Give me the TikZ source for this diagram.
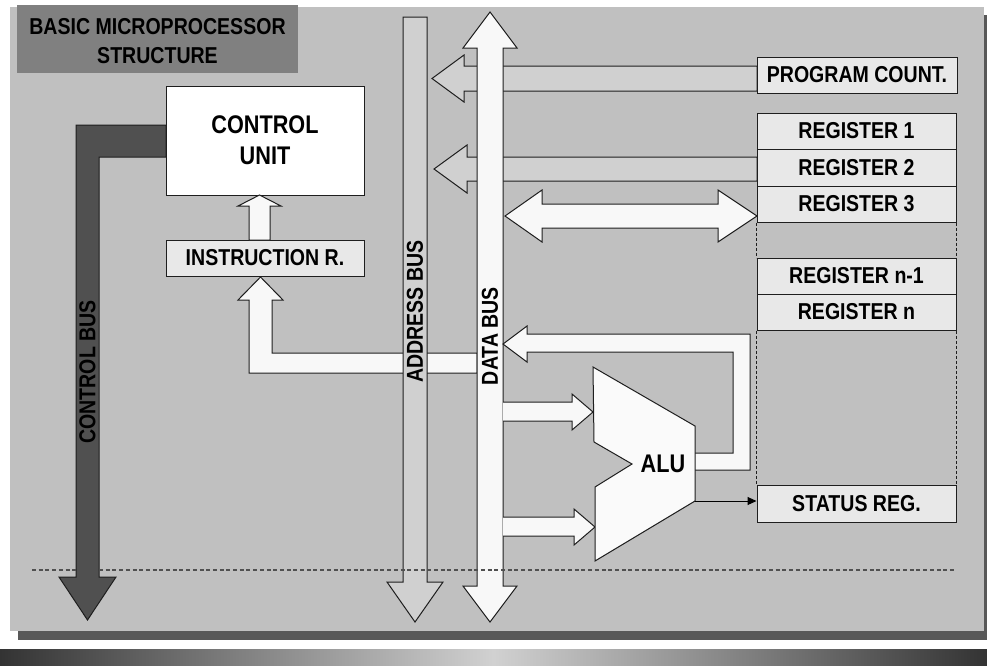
\documentclass[tikz,border=0pt]{standalone}
\usepackage{fontspec}
\setmainfont{Liberation Sans}[FakeStretch=0.85]
\usetikzlibrary{arrows.meta}
\definecolor{panel}{HTML}{C0C0C0}
\definecolor{titlefill}{HTML}{808080}
\definecolor{addrfill}{HTML}{D0D0D0}
\definecolor{datafill}{HTML}{F8F8F8}
\definecolor{boxfill}{HTML}{E8E8E8}
\definecolor{ctrlfill}{HTML}{505050}
\definecolor{shadowc}{HTML}{585858}
\definecolor{linec}{HTML}{1E1E1E}
\newcommand\labfont{\bfseries\fontsize{23pt}{26pt}\selectfont}
\newcommand\bigfont{\bfseries\fontsize{25.5pt}{31pt}\selectfont}
\begin{document}
\begin{tikzpicture}[x=1pt,y=-1pt,
  outl/.style={draw=linec, line width=1pt, line join=miter},
  regbox/.style={draw=linec, line width=1pt, fill=boxfill, minimum width=199pt, minimum height=36pt, inner sep=0pt, font=\labfont},
  buslbl/.style={rotate=90, inner sep=0pt, font=\labfont},
  regdash/.style={draw=linec, line width=1pt, dash pattern=on 3pt off 2pt}]
\useasboundingbox (0,0) rectangle (987,665);
\fill[white] (0,0) rectangle (987,665);
% bottom gradient bar
\shade[left color=black!80, right color=black!80, middle color=black!18] (0,649) rectangle (987,665);
% panel and shadow
\fill[shadowc] (18,631) rectangle (987,640);
\fill[shadowc] (984,15) rectangle (987,640);
\fill[panel] (10,7) rectangle (984,631);
% title
\fill[titlefill] (17,5) rectangle (298,73);
\node[font=\labfont, align=center, inner sep=0pt] (title) at (157.5,41.5) {BASIC MICROPROCESSOR\\[3pt]STRUCTURE};

% control bus
\filldraw[outl, fill=ctrlfill] (166,125) -- (76,125) -- (76,577) -- (59,577) -- (87.5,620) -- (116,577) -- (99,577) -- (99,157) -- (166,157) -- cycle;

% arrow data bus -> instruction register
\filldraw[outl, fill=datafill] (477,353) -- (272,353) -- (272,300) -- (283,300) -- (260.5,277) -- (238,300) -- (249,300) -- (249,373) -- (477,373) -- cycle;

% address bus
\filldraw[outl, fill=addrfill] (403,17) -- (427,17) -- (427,582) -- (443,582) -- (415,622) -- (387,582) -- (403,582) -- cycle;

% program counter -> address bus
\filldraw[outl, fill=addrfill] (757,66) -- (464,66) -- (464,55) -- (432,78.5) -- (464,102) -- (464,91) -- (757,91) -- cycle;
% register 2 -> address bus
\filldraw[outl, fill=addrfill] (757,157) -- (467,157) -- (467,145) -- (434,169) -- (467,193) -- (467,181) -- (757,181) -- cycle;

% data bus
\filldraw[outl, fill=datafill] (477,48) -- (463,48) -- (490,12) -- (517,48) -- (503,48) -- (503,586) -- (517,586) -- (490,622) -- (463,586) -- (477,586) -- cycle;

% register 3 <-> data bus
\filldraw[outl, fill=datafill] (505,216) -- (542,190) -- (542,204) -- (718,204) -- (718,190) -- (757,216) -- (718,242) -- (718,228) -- (542,228) -- (542,242) -- cycle;

% data bus -> ALU inputs
\filldraw[outl, fill=datafill] (503,402) -- (572,402) -- (572,394) -- (593,412) -- (572,430) -- (572,421) -- (503,421);
\filldraw[outl, fill=datafill] (503,517) -- (574,517) -- (574,509) -- (595,527) -- (574,545) -- (574,536) -- (503,536);

% ALU -> data bus feedback
\filldraw[outl, fill=datafill] (695,453) -- (733,453) -- (733,352) -- (527,352) -- (527,362) -- (503,344) -- (527,326) -- (527,334) -- (750,334) -- (750,470) -- (695,470);

% ALU
\filldraw[outl, fill=white!98!black] (593,367) -- (695,426) -- (695,501) -- (595,561) -- (595,487) -- (632,464) -- (594,442) -- cycle;
\node[font=\bigfont, inner sep=0pt] (alu) at (663,464) {ALU};
\coordinate (aluout) at (695,501);

% control unit and instruction register
\node[regbox, fill=white, minimum width=198pt, minimum height=109pt, font=\bigfont, align=center] (cu) at (265,140.5) {CONTROL\\UNIT};
\node[regbox, minimum width=198pt] (ir) at (265,258) {INSTRUCTION R.};
\filldraw[outl, fill=datafill] (249,240) -- (249,206) -- (238,206) -- (259.5,195) -- (281,206) -- (270,206) -- (270,240) -- cycle;

% registers
\node[regbox, minimum width=200pt] (pc) at (857,75) {PROGRAM COUNT.};
\node[regbox] (r1) at (856.5,131) {REGISTER 1};
\node[regbox, minimum height=37pt] (r2) at (856.5,167.5) {REGISTER 2};
\node[regbox] (r3) at (856.5,204) {REGISTER 3};
\node[regbox] (rn1) at (856.5,276) {REGISTER n-1};
\node[regbox] (rn) at (856.5,312) {REGISTER n};
\node[regbox, minimum height=37pt] (status) at (856.5,503.5) {STATUS REG.};

\draw[regdash] (r3.south west) -- (rn1.north west);
\draw[regdash] (r3.south east) -- (rn1.north east);
\draw[regdash] (rn.south west) -- (status.north west);
\draw[regdash] (rn.south east) -- (status.north east);

% ALU -> status
\draw[draw=black, line width=1pt, -{Triangle[length=9pt,width=8pt]}] (aluout) -- (aluout -| status.west);

% dotted line
\draw[draw=ctrlfill, line width=1.5pt, dash pattern=on 4pt off 2.7pt] (32,570) -- (955,570);

% bus labels
\node[buslbl] (ablbl) at (415,311.5) {ADDRESS BUS};
\node[buslbl] (dblbl) at (490,336) {DATA BUS};
\node[buslbl] (cblbl) at (87.5,372) {CONTROL BUS};
\end{tikzpicture}
\end{document}
